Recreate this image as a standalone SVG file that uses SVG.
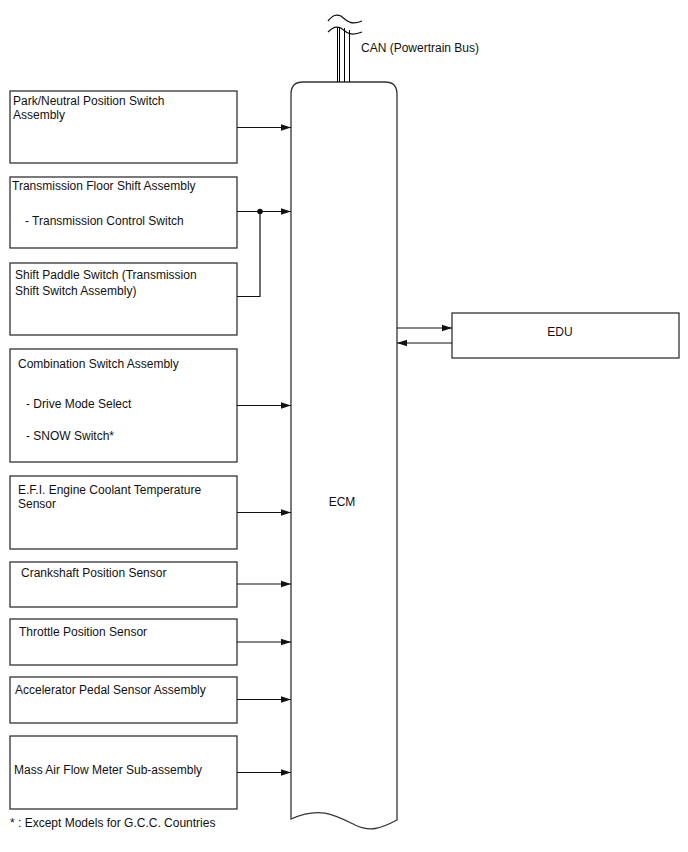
<svg xmlns="http://www.w3.org/2000/svg" width="688" height="852" viewBox="0 0 688 852">
<defs>
<marker id="ah" markerWidth="10" markerHeight="8" refX="10" refY="4" orient="auto" markerUnits="userSpaceOnUse">
<path d="M0,0.8 L10,4 L0,7.2 Z" fill="#111"/>
</marker>
<style>
.box{fill:#fff;stroke:#333;stroke-width:1.3}
.ln{fill:none;stroke:#111;stroke-width:1.2}
.can{fill:none;stroke:#000;stroke-width:1}
text{font-family:"Liberation Sans",Arial,sans-serif;font-size:12px;fill:#111}
</style>
</defs>
<rect width="688" height="852" fill="#fff"/>

<g id="ecm">
<path class="box" d="M291,819 L291,94 Q291,82 303,82 L385,82 Q397,82 397,94 L397,820 C380,829 370,832 355,825 C335,815 320,806 291,819 Z"/>
<text x="342" y="506" text-anchor="middle">ECM</text>
</g>

<g id="can">
<path class="ln" d="M328,21 C333,15 336,14 341,16 C346,20 350,26 362,21"/>
<path class="ln" d="M328,32 C333,27 336,26 341,28 C346,32 350,37 362,32"/>
<line class="can" x1="337.5" y1="27" x2="337.5" y2="82"/>
<line class="can" x1="339.5" y1="27" x2="339.5" y2="82"/>
<line class="can" x1="344.5" y1="28" x2="344.5" y2="82"/>
<line class="can" x1="349.5" y1="30" x2="349.5" y2="82"/>
<text x="361" y="52">CAN (Powertrain Bus)</text>
</g>

<g id="pnp">
<rect class="box" x="10" y="91" width="227" height="72"/>
<text x="13" y="105">Park/Neutral Position Switch</text>
<text x="13" y="119">Assembly</text>
</g>
<g id="tfs">
<rect class="box" x="10" y="177" width="227" height="71"/>
<text x="12" y="190">Transmission Floor Shift Assembly</text>
<text x="25" y="225">- Transmission Control Switch</text>
</g>
<g id="paddle">
<rect class="box" x="10" y="263" width="227" height="72"/>
<text x="15" y="279">Shift Paddle Switch (Transmission</text>
<text x="15" y="295">Shift Switch Assembly)</text>
</g>
<g id="combo">
<rect class="box" x="10" y="349" width="227" height="113"/>
<text x="18" y="368">Combination Switch Assembly</text>
<text x="26" y="408">- Drive Mode Select</text>
<text x="26" y="440">- SNOW Switch*</text>
</g>
<g id="ect">
<rect class="box" x="10" y="476" width="227" height="73"/>
<text x="18" y="494">E.F.I. Engine Coolant Temperature</text>
<text x="18" y="508">Sensor</text>
</g>
<g id="ckp">
<rect class="box" x="10" y="562" width="227" height="45"/>
<text x="21" y="577">Crankshaft Position Sensor</text>
</g>
<g id="tps">
<rect class="box" x="10" y="619" width="227" height="46"/>
<text x="19" y="636">Throttle Position Sensor</text>
</g>
<g id="aps">
<rect class="box" x="10" y="677" width="227" height="46"/>
<text x="15" y="694">Accelerator Pedal Sensor Assembly</text>
</g>
<g id="maf">
<rect class="box" x="10" y="736" width="227" height="73"/>
<text x="14" y="774">Mass Air Flow Meter Sub-assembly</text>
</g>
<g id="edu">
<rect class="box" x="452" y="313" width="227" height="45"/>
<text x="560" y="336" text-anchor="middle">EDU</text>
</g>

<g id="connectors">
<line class="ln" x1="237" y1="127.5" x2="291" y2="127.5" marker-end="url(#ah)"/>
<line class="ln" x1="237" y1="211.5" x2="291" y2="211.5" marker-end="url(#ah)"/>
<polyline class="ln" points="237,296.5 260,296.5 260,211.5"/>
<circle cx="260" cy="211.5" r="2.8" fill="#111"/>
<line class="ln" x1="237" y1="405.5" x2="291" y2="405.5" marker-end="url(#ah)"/>
<line class="ln" x1="237" y1="512.5" x2="291" y2="512.5" marker-end="url(#ah)"/>
<line class="ln" x1="237" y1="584" x2="291" y2="584" marker-end="url(#ah)"/>
<line class="ln" x1="237" y1="642" x2="291" y2="642" marker-end="url(#ah)"/>
<line class="ln" x1="237" y1="699.5" x2="291" y2="699.5" marker-end="url(#ah)"/>
<line class="ln" x1="237" y1="772.5" x2="291" y2="772.5" marker-end="url(#ah)"/>
<line class="ln" x1="397" y1="328" x2="452" y2="328" marker-end="url(#ah)"/>
<line class="ln" x1="452" y1="343" x2="397" y2="343" marker-end="url(#ah)"/>
</g>

<text x="10" y="827">* : Except Models for G.C.C. Countries</text>
</svg>
